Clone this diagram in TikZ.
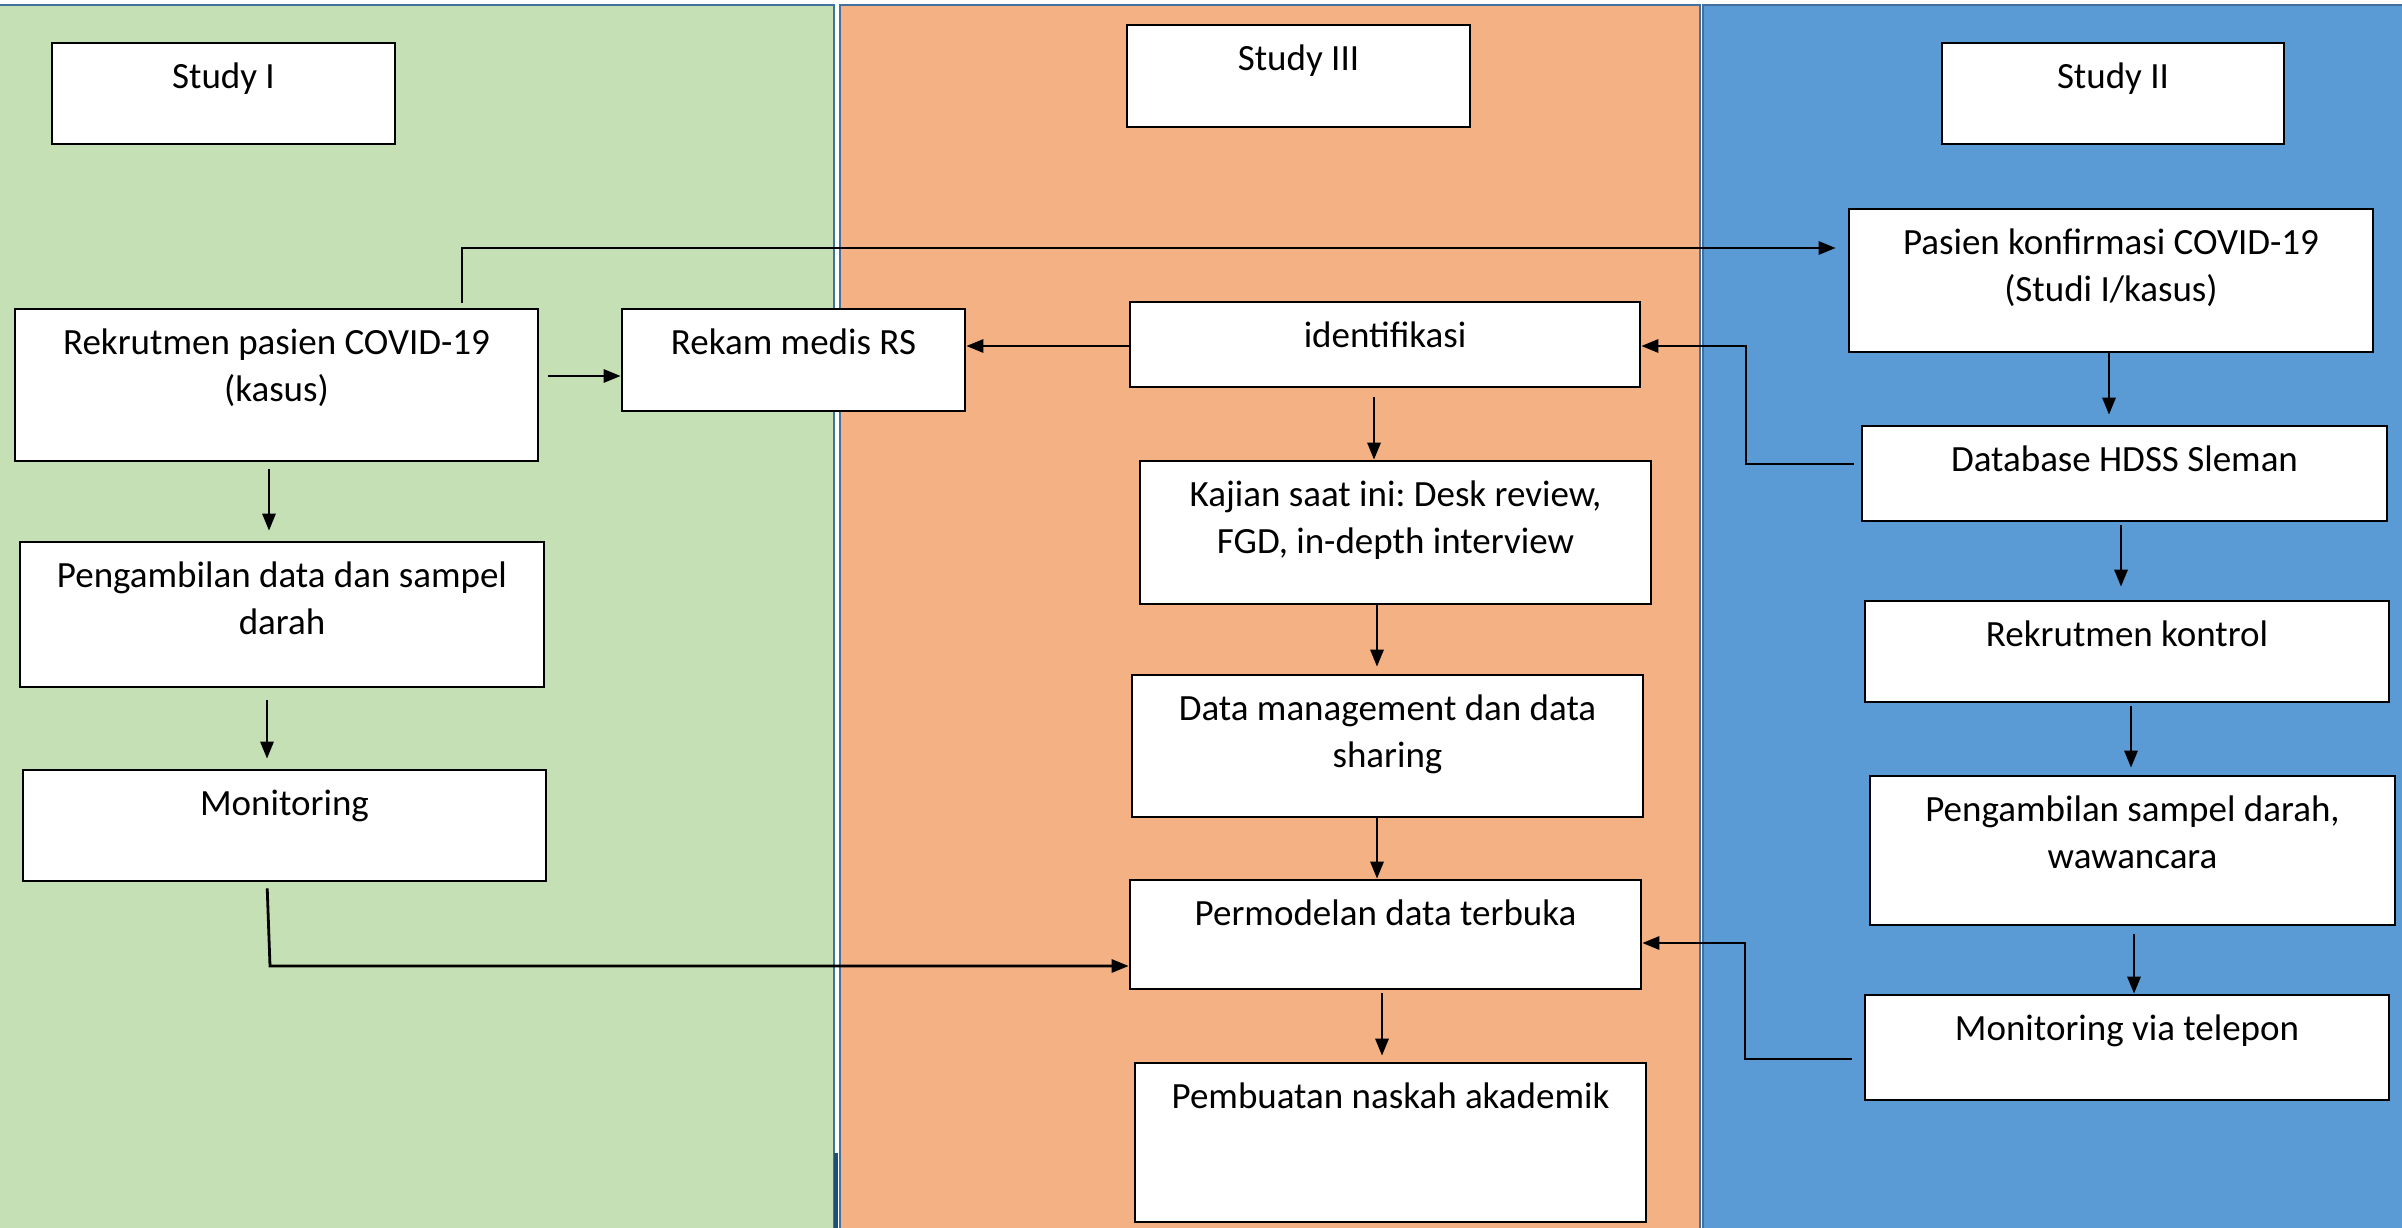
\documentclass[tikz,border=0pt]{standalone}
\usepackage{fontspec}
\setmainfont{Carlito}
\usetikzlibrary{arrows.meta}
\definecolor{pgreen}{RGB}{197,224,180}
\definecolor{porange}{RGB}{244,177,131}
\definecolor{pblue}{RGB}{91,155,213}
\definecolor{pborder}{RGB}{65,113,156}
\definecolor{pdark}{RGB}{31,78,121}
\newcommand\fs{\rule{0pt}{36pt}}
\frenchspacing
\begin{document}
\begin{tikzpicture}[x=1pt,y=-1pt,
  box/.style={draw=black, line width=2.6pt, fill=white, rectangle, inner sep=0pt},
  lbl/.style={anchor=north, inner sep=0pt, align=center, font=\fontsize{37}{47}\selectfont},
  arr/.style={line width=2.8pt, line join=miter, -{Triangle[length=17pt,width=13pt]}},
  panel/.style={draw=pborder, line width=2pt}]
\useasboundingbox (0,0) rectangle (2402,1228);
\fill[white] (0,0) rectangle (2402,1228);
% panels
\draw[panel, fill=pgreen] (-5,5) rectangle (834,1240);
\draw[panel, fill=porange] (840,5) rectangle (1700,1240);
\draw[panel, fill=pblue] (1703,5) rectangle (2410,1240);
\draw[pdark, line width=4pt] (836,1153) -- (836,1232);
% boxes
\newcommand\bx[6]{\node[box, minimum width=#4pt, minimum height=#5pt] (#1) at (#2,#3) {};
  \node[lbl] (#1t) at ([yshift=-11pt]#1.north) {\fs #6};}
\bx{s1}{223.5}{93.5}{343}{101}{Study I}
\bx{s3}{1298.5}{76}{343}{102}{Study III}
\bx{s2}{2113}{93.5}{342}{101}{Study II}
\bx{rek}{276.5}{385}{523}{152}{Rekrutmen pasien COVID-19\\(kasus)}
\bx{rm}{793.5}{360}{343}{102}{Rekam medis RS}
\bx{idf}{1385}{344.5}{510}{85}{identifikasi}
\bx{pas}{2111}{280.5}{524}{143}{Pasien konfirmasi COVID-19\\(Studi I/kasus)}
\bx{db}{2124.5}{473.5}{525}{95}{Database HDSS Sleman}
\bx{kaj}{1395.5}{532.5}{511}{143}{Kajian saat ini: Desk review,\\FGD, in-depth interview}
\bx{pengd}{282}{614.5}{524}{145}{Pengambilan data dan sampel\\darah}
\bx{rk}{2127}{651.5}{524}{101}{Rekrutmen kontrol}
\bx{dm}{1387.5}{746}{511}{142}{Data management dan data\\sharing}
\bx{mon}{284.5}{825.5}{523}{111}{Monitoring}
\bx{samp}{2132.5}{850.5}{525}{149}{Pengambilan sampel darah,\\wawancara}
\bx{perm}{1385.5}{934.5}{511}{109}{Permodelan data terbuka}
\bx{mtel}{2127}{1047.5}{524}{105}{Monitoring via telepon}
\bx{pemb}{1390.5}{1142.5}{511}{159}{Pembuatan naskah akademik}
% helper coordinates
\coordinate (a1) at (462,248);
\coordinate (b1) at (0,376);
\coordinate (c1) at (0,346);
\coordinate (d1) at (1746,464);
\coordinate (e1) at (2109,0);
\coordinate (f1) at (269,0);
\coordinate (g1) at (267,0);
\coordinate (h1) at (267,0);
\coordinate (h2) at (270,966);
\coordinate (i1) at (1374,0);
\coordinate (j1) at (1377,0);
\coordinate (l1) at (1382,0);
\coordinate (m1) at (2121,0);
\coordinate (n1) at (2131,0);
\coordinate (o1) at (2134,0);
\coordinate (p1) at (1745,1059);
\coordinate (p2) at (0,943);
% connectors
\draw[arr, shorten <=5pt, shorten >=12pt] (rek.north -| a1) -- (a1) -- (a1 -| pas.west);
\draw[arr, shorten <=9pt] (rek.east |- b1) -- (rm.west |- b1);
\draw[arr] (idf.west |- c1) -- (rm.east |- c1);
\draw[arr, shorten <=7pt] (db.west |- d1) -- (d1) -- (d1 |- c1) -- (idf.east |- c1);
\draw[arr, shorten >=10pt] (pas.south -| e1) -- (db.north -| e1);
\draw[arr, shorten <=7pt, shorten >=10pt] (rek.south -| f1) -- (pengd.north -| f1);
\draw[arr, shorten <=12pt, shorten >=10pt] (pengd.south -| g1) -- (mon.north -| g1);
\draw[arr, shorten <=6pt] (mon.south -| h1) -- (h2) -- (perm.west |- h2);
\draw[arr, shorten <=9pt] (idf.south -| i1) -- (kaj.north -| i1);
\draw[arr, shorten >=7pt] (kaj.south -| j1) -- (dm.north -| j1);
\draw[arr] (dm.south -| j1) -- (perm.north -| j1);
\draw[arr, shorten <=3pt, shorten >=6pt] (perm.south -| l1) -- (pemb.north -| l1);
\draw[arr, shorten <=3pt, shorten >=13pt] (db.south -| m1) -- (rk.north -| m1);
\draw[arr, shorten <=3pt, shorten >=7pt] (rk.south -| n1) -- (samp.north -| n1);
\draw[arr, shorten <=8pt] (samp.south -| o1) -- (mtel.north -| o1);
\draw[arr, shorten <=12pt] (mtel.west |- p1) -- (p1) -- (p1 |- p2) -- (perm.east |- p2);
\end{tikzpicture}
\end{document}
